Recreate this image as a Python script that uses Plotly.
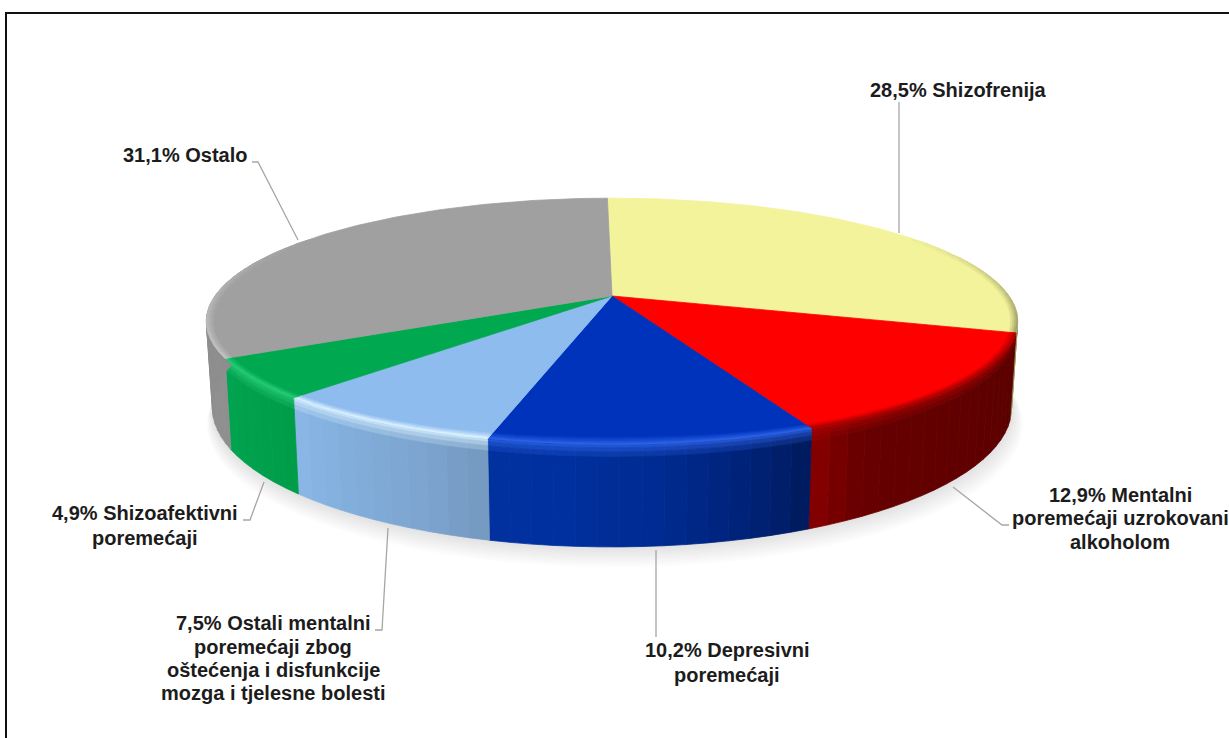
import numpy as np
import plotly.graph_objects as go

# ---- data ----
categories = ["Shizofrenija", "Mentalni poremećaji uzrokovani alkoholom", "Depresivni poremećaji",
              "Ostali mentalni poremećaji zbog oštećenja i disfunkcije mozga i tjelesne bolesti",
              "Shizoafektivni poremećaji", "Ostalo"]
values = [28.5, 12.9, 10.2, 7.5, 4.9, 31.1]

# ---- styles ----
top_colors = ["#f3f39b", "#fe0000", "#0033bb", "#8fbcef", "#00a84f", "#a0a0a0"]
rim_colors = ["#8f8f60", "#a80000", "#2c62e6", "#d9f1ff", "#27cc78", "#c4c4c4"]
# side colours run clockwise, i.e. right to left along the front of the pie
side_colors = [["#9a9a62", "#9a9a62"],
               ["#5a0000", "#5c0000", "#5e0000", "#600000", "#620000", "#640000", "#680000", "#880000"],
               ["#001a5c", "#00247c", "#002b92", "#00309f", "#00319f"],
               ["#7499c0", "#7da6d1", "#82aedb", "#8bb7e7"],
               ["#009c49", "#00a04c", "#00a34f"],
               ["#8f8f8f", "#8c8c8c", "#8c8c8c"]]

# ---- pie geometry (pixel axes) ----
CX, CY = 612.0, 296.0
R, S, K, H = 397.0, 118.0, 0.206, 83.0
BOTTOM_SCALE = 0.985
ROTATION = -0.8
BEVEL_PX = 7.0


def project(r, deg, z=0.0):
    th = np.radians(np.asarray(deg, float) + ROTATION)
    X, Y = r * np.sin(th), r * np.cos(th)
    d = 1 + K * Y
    sc = 1 - (1 - BOTTOM_SCALE) * z
    return CX + R * X * sc / d, CY - S * Y * sc / d + z * H / d


def inset(deg, px):
    x, y = project(1.0, deg)
    dx, dy = CX - x, CY - y
    n = np.hypot(dx, dy)
    return x + px * dx / n, y + px * dy / n


def hex2rgb(c):
    return np.array([int(c[i:i + 2], 16) for i in (1, 3, 5)], float)


def mix(a, b, f):
    v = hex2rgb(a) * (1 - f) + hex2rgb(b) * f
    return "#%02x%02x%02x" % tuple(int(round(x)) for x in v)


def grad(stops, f):
    p = f * (len(stops) - 1)
    i = min(int(p), len(stops) - 2)
    return mix(stops[i], stops[i + 1], p - i)


fig = go.Figure()


def poly(xs, ys, color):
    fig.add_trace(go.Scatter(x=list(np.round(xs, 2)), y=list(np.round(ys, 2)), mode="lines", fill="toself",
                             fillcolor=color, line=dict(color=color, width=0.8),
                             hoverinfo="skip", showlegend=False))


# soft shadow
all_deg = np.linspace(0, 360, 121)
for i in range(10):
    f = i / 9
    sx, sy = project(1.0 + 0.02 * (1 - f), all_deg, 1.0)
    fig.add_trace(go.Scatter(x=list(np.round(sx + 3 * (1 - f), 2)), y=list(np.round(sy + 1 + 15 * (1 - f), 2)),
                             mode="lines", fill="toself", fillcolor="rgba(60,60,60,0.017)", line=dict(width=0),
                             hoverinfo="skip", showlegend=False))

shares = np.array(values) / sum(values)
edges = np.concatenate([[0], np.cumsum(shares)]) * 360

SIDE_V = [0, 0.03, 0.07, 0.12, 1.0]
RIM_PX = [BEVEL_PX, BEVEL_PX * 0.7, BEVEL_PX * 0.42, BEVEL_PX * 0.18, 0.0]

# sides
for i in range(len(values)):
    a, b = edges[i], edges[i + 1]
    n = max(4, int((b - a) / 2.5))
    ts = np.linspace(a, b, n + 1)
    for j in range(n):
        t0, t1 = ts[j], ts[j + 1]
        if np.cos(np.radians((t0 + t1) / 2)) > 0.35:
            continue
        base = grad(side_colors[i], (j + 0.5) / n)
        seg = np.array([t0, (t0 + t1) / 2, t1])
        for m in range(len(SIDE_V) - 1):
            v0, v1 = SIDE_V[m], SIDE_V[m + 1]
            col = base if m == len(SIDE_V) - 2 else mix(rim_colors[i], base, (m + 1) / (len(SIDE_V) - 1))
            x0, y0 = project(1.0, seg, v0)
            x1, y1 = project(1.0, seg, v1)
            poly(np.r_[x0, x1[::-1], x0[0]], np.r_[y0, y1[::-1], y0[0]], col)

# tops
for i in range(len(values)):
    a, b = edges[i], edges[i + 1]
    ts = np.linspace(a, b, max(8, int(b - a)))
    x, y = project(1.0, ts)
    px0, py0 = project(0.0, 0.0)
    poly(np.r_[px0, x, px0], np.r_[py0, y, py0], top_colors[i])

# bevel on the top rim, fading toward the back of the pie
for i in range(len(values)):
    a, b = edges[i], edges[i + 1]
    n = max(4, int((b - a) / 3))
    ts = np.linspace(a, b, n + 1)
    for j in range(n):
        seg = np.array([ts[j], (ts[j] + ts[j + 1]) / 2, ts[j + 1]])
        mid = np.radians((ts[j] + ts[j + 1]) / 2)
        w = float(np.clip(0.55 - np.cos(mid), 0.0, 1.0))
        if w <= 0.02:
            continue
        for m in range(len(RIM_PX) - 1):
            col = mix(top_colors[i], rim_colors[i], w * (m + 1) / (len(RIM_PX) - 1))
            x0, y0 = inset(seg, RIM_PX[m])
            x1, y1 = inset(seg, RIM_PX[m + 1])
            poly(np.r_[x0, x1[::-1], x0[0]], np.r_[y0, y1[::-1], y0[0]], col)

# leader lines
leaders = [([899, 899], [233, 102]),
           ([1009, 1002, 953], [525, 525, 487]),
           ([656, 656], [550, 637]),
           ([388, 382, 375], [528, 630, 630]),
           ([264, 250, 243], [482, 520, 520]),
           ([252, 258, 298], [162, 162, 240])]
for xs, ys in leaders:
    fig.add_trace(go.Scatter(x=xs, y=ys, mode="lines", line=dict(color="#a6a6a6", width=1.3),
                             hoverinfo="skip", showlegend=False))

# labels (one entry per rendered line)
labels = [("28,5% Shizofrenija", 958, 90),
          ("31,1% Ostalo", 185, 155),
          ("12,9% Mentalni", 1120, 495),
          ("poremećaji uzrokovani", 1120, 518),
          ("alkoholom", 1120, 542),
          ("10,2% Depresivni", 727, 650),
          ("poremećaji", 727, 675),
          ("7,5% Ostali mentalni", 273, 623),
          ("poremećaji zbog", 273, 647),
          ("oštećenja i disfunkcije", 273, 670),
          ("mozga i tjelesne bolesti", 273, 693),
          ("4,9% Shizoafektivni", 145, 513),
          ("poremećaji", 145, 538)]
annotations = [dict(x=x, y=y, text=t, xref="x", yref="y", showarrow=False, xanchor="center", yanchor="middle",
                    font=dict(family="Liberation Sans, Arial, sans-serif", size=20, color="#1c1c1c", weight="bold"))
               for t, x, y in labels]

frame = [dict(type="line", xref="x", yref="y", x0=6, x1=6, y0=13, y1=738, line=dict(color="#111111", width=2)),
         dict(type="line", xref="x", yref="y", x0=5, x1=1229, y0=13, y1=13, line=dict(color="#111111", width=2))]

fig.update_layout(width=1229, height=738, margin=dict(l=0, r=0, t=0, b=0), paper_bgcolor="white",
                  plot_bgcolor="white", showlegend=False, annotations=annotations, shapes=frame,
                  xaxis=dict(range=[0, 1229], visible=False, fixedrange=True),
                  yaxis=dict(range=[738, 0], visible=False, fixedrange=True))

fig.write_html("out.html", config=dict(displayModeBar=False),
               post_script="document.body.style.margin='0';document.body.style.overflow='hidden';")
